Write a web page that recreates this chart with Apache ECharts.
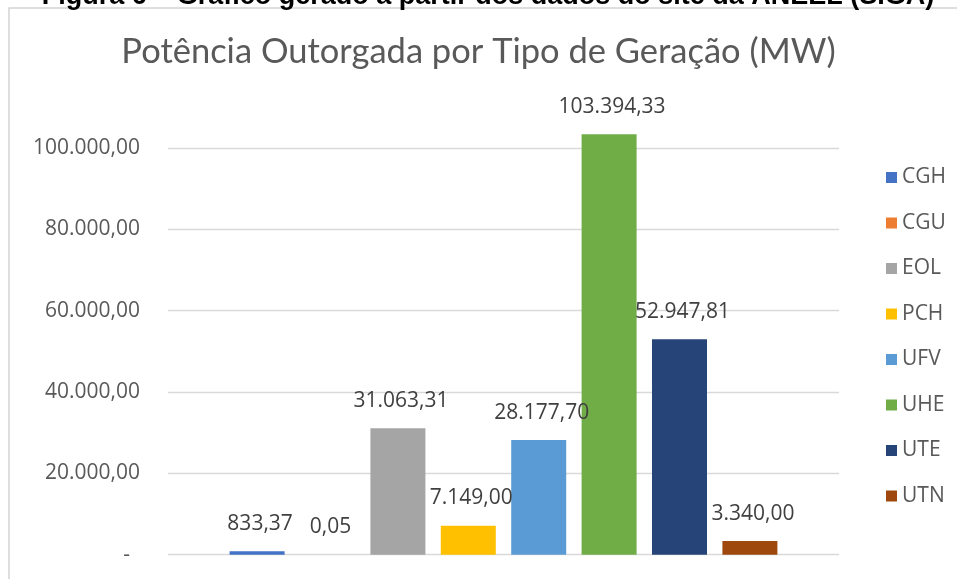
<!DOCTYPE html>
<html>
<head>
<meta charset="utf-8">
<script src="https://cdn.jsdelivr.net/npm/echarts@6/dist/echarts.min.js"></script>
<style>
  html, body { margin: 0; padding: 0; background: #fff; }
  #chart { width: 957px; height: 579px; }
</style>
</head>
<body>
<div id="chart"></div>
<script>
const tipos = ['CGH', 'CGU', 'EOL', 'PCH', 'UFV', 'UHE', 'UTE', 'UTN']
const potencia = [833.37, 0.05, 31063.31, 7149.0, 28177.7, 103394.33, 52947.81, 3340.0]
const cores = ['#4472C4', '#ED7D31', '#A5A5A5', '#FFC000', '#5B9BD5', '#70AD47', '#264478', '#9E480E']
const yTicks = [0, 20000, 40000, 60000, 80000, 100000]

// 12345.6 -> "12.345,60"
function fmt(v) {
  const [int, dec] = v.toFixed(2).split('.')
  return int.replace(/\B(?=(\d{3})+(?!\d))/g, '.') + ',' + dec
}

const chart = echarts.init(document.getElementById('chart'))

chart.setOption({
  animation: false,
  title: {
    text: 'Potência Outorgada por Tipo de Geração (MW)',
    left: 'center',
    top: 29,
    textStyle: { fontFamily: 'Lato', fontWeight: 'normal', fontSize: 34.5, color: '#595959' },
  },
  graphic: [
    {
      type: 'rect',
      shape: { x: 9, y: 8, width: 1000, height: 600 },
      style: { fill: 'none', stroke: '#d4d4d4', lineWidth: 1.5 },
      silent: true,
    },
    {
      type: 'text',
      x: 488,
      y: 10,
      style: {
        text: 'Figura 6 – Gráfico gerado a partir dos dados do site da ANEEL (SIGA)',
        font: 'bold 27px "Liberation Sans", Arial, sans-serif',
        fill: '#000',
        align: 'center',
        verticalAlign: 'bottom',
      },
      silent: true,
    },
  ],
  legend: {
    orient: 'vertical',
    left: 881,
    top: 162,
    itemWidth: 11,
    itemHeight: 11,
    itemGap: 24.5,
    icon: 'rect',
    textStyle: { fontFamily: 'Open Sans', fontSize: 21, color: '#595959' },
    data: tipos,
  },
  grid: { left: 168, right: 118, top: 148, bottom: 24.3 },
  xAxis: {
    type: 'category',
    data: [''],
    axisLine: { show: false },
    axisTick: { show: false },
    axisLabel: { show: false },
  },
  yAxis: {
    type: 'value',
    min: 0,
    max: yTicks[yTicks.length - 1],
    interval: 20000,
    axisLine: { show: false },
    axisTick: { show: false },
    splitLine: { lineStyle: { color: '#d9d9d9', width: 1.3 } },
    axisLabel: {
      margin: 28,
      fontFamily: 'Open Sans',
      fontSize: 21,
      color: '#595959',
      formatter: (v) => (v === 0 ? '{z|-}' : fmt(v)),
      rich: { z: { fontFamily: 'Open Sans', fontSize: 21, color: '#595959', padding: [0, 10, 0, 0] } },
    },
  },
  series: tipos.map((t, i) => ({
    name: t,
    type: 'bar',
    data: [potencia[i]],
    barWidth: 55,
    barGap: '28%',
    clip: false,
    itemStyle: { color: cores[i] },
    label: {
      show: true,
      position: 'top',
      distance: 17,
      offset: [3, 0],
      fontFamily: 'Open Sans',
      fontSize: 21,
      color: '#404040',
      formatter: (p) => fmt(p.value),
    },
  })),
})
</script>
</body>
</html>
